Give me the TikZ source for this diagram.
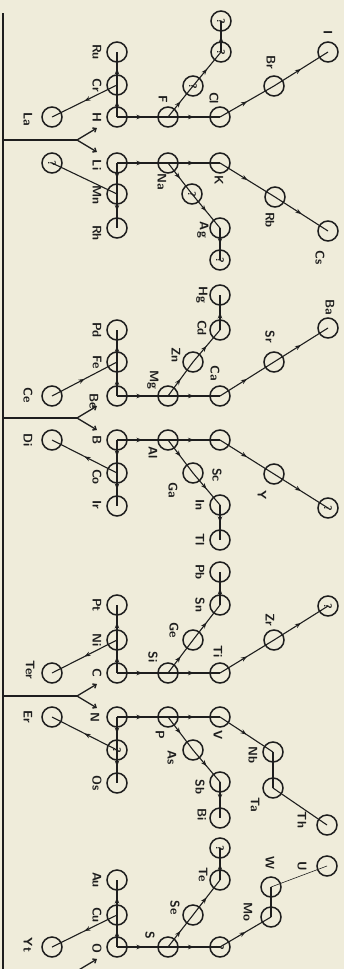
\documentclass[tikz,border=0pt]{standalone}
\usepackage{tikz}
\usetikzlibrary{arrows.meta,decorations.markings,positioning}
\definecolor{paper}{HTML}{EFECDA}
\definecolor{ink}{HTML}{1E1E1E}
\tikzset{
  element/.style={%
    circle,
    draw=ink,
    line width=1.5pt,
    minimum size=20pt,
    inner sep=0pt},
  unknown/.style={%
    element,
    rotate=-90,
    text=ink,
    font=\sffamily\bfseries\fontsize{11}{11}\selectfont},
  elementText/.style={%
    rotate=-90,
    text=ink,
    inner sep=0pt,
    font=\sffamily\bfseries\fontsize{12.5}{12.5}\selectfont},
  link/.style={draw=ink, line width=1.1pt},
  flowLink/.style={%
    link,
    postaction={decorate},
    decoration={markings,
      mark=at position 0.5 with {\arrow{Stealth[length=6pt,width=4.5pt]}}}},
  forkArrow/.style={draw=ink, line width=1.3pt, -{Straight Barb[length=3pt,width=5pt]}},
  }

\begin{document}
\begin{tikzpicture}[x=1pt,y=-1pt]
  \useasboundingbox (0,0) rectangle (344,969);
  \fill[paper] (0,0) rectangle (344,969);
  % main stem and the four forks
  \coordinate (stemTop) at (3,13);
  \coordinate (stemBottom) at (3,975);
  \draw[ink, line width=2pt] (stemTop) -- (stemBottom);
  \foreach \i/\y in {1/140, 2/418, 3/696, 4/971} {
    \coordinate (root \i) at (3,\y);
    \coordinate (split \i) at (77,\y);
    \coordinate (up \i) at (97,\y-12);
    \coordinate (down \i) at (97,\y+12);
    \draw[link, line width=1.3pt] (root \i) -- (split \i);
    \draw[forkArrow] (split \i) -- (up \i);
    \draw[forkArrow] (split \i) -- (down \i);
  }
  % elements
  \foreach \n/\x/\y in {
      La/52/117, H/117/117, Cr/117/85, Ru/117/52, F/168/117, Cl/220/117, Br/274/86, I/328/52,
      Li/117/163, Na/168/163, K/220/163, Rb/275/197, Cs/328/231, Mn/117/194, Rh/117/228, Ag/220/228,
      Hg/220/295, Cd/220/330, Zn/193/362, Mg/168/396, Be/117/396, Ca/220/396, Sr/274/362, Ba/328/328,
      Fe/117/362, Pd/117/330, Ce/52/396,
      B/117/440, Co/117/473, Ir/117/506, Di/52/440, Al/168/440, Sc/220/440, Y/274/474, Ga/193/473,
      In/220/505, Tl/220/540,
      Pb/220/572, Sn/220/605, Ge/193/640, Si/168/673, C/117/673, Ti/220/673, Zr/274/640, Ni/117/640,
      Pt/117/605, Ter/52/673,
      N/117/717, Os/117/783, Er/52/717, P/168/717, As/193/750, Sb/220/782, Bi/220/818, V/220/717,
      Nb/273/752, Ta/273/788, Th/327/825,
      Te/220/880, Se/193/915, S/168/947, O/117/947, Cu/117/915, Au/117/880, Yt/52/947,
      Mo/271/917, W/271/887, U/327/866}
    \node[element] (\n) at (\x,\y) {};
  % unknown places
  \foreach \n/\x/\y in {
      qa/193/86, qb/221/52, qc/221/21, qd/52/163, qe/192/194, qf/220/260, qg/328/508,
      qh/328/606, qi/117/750, qj/220/848, qk/220/947}
    \node[unknown] (\n) at (\x,\y) {?};
  % names
  \foreach \n/\x/\y in {
      La/28/119, H/97/117, Cr/97/85, Ru/97/52, F/163/99, Cl/214/98, Br/271/62, I/328/33,
      Li/97/165, Na/162/182, K/219/180, Rb/270/220, Cs/320/258, Mn/97/195, Rh/97/233, Ag/203/230,
      Hg/202/295, Cd/202/328, Zn/176/355, Mg/153/380, Be/94/401, Ca/215/373, Sr/270/337, Ba/330/307,
      Fe/97/362, Pd/97/330, Ce/28/395,
      B/97/440, Co/97/477, Ir/97/505, Di/28/440, Al/153/453, Sc/217/475, Y/262/495, Ga/173/490,
      In/200/505, Tl/200/540,
      Pb/200/572, Sn/200/605, Ge/174/630, Si/153/657, C/97/673, Ti/218/652, Zr/270/620, Ni/97/640,
      Pt/97/605, Ter/30/670,
      N/95/717, Os/97/783, Er/28/717, P/160/735, As/172/758, Sb/200/787, Bi/202/815, V/218/735,
      Nb/253/755, Ta/255/805, Th/302/820,
      Te/203/875, Se/175/908, S/150/935, O/97/948, Cu/97/915, Au/97/880, Yt/28/945,
      Mo/248/912, W/270/863, U/302/866}
    \node[elementText] (\n-text) at (\x,\y) {\n};
  % connections
  \foreach \a/\b in {
      H/F, F/Cl, Cl/Br, Br/I, F/qa, qa/qb, qb/qc, H/Cr, Cr/Ru, Cr/La,
      Li/Na, Na/K, K/Rb, Rb/Cs, Na/qe, qe/Ag, Ag/qf, Li/Mn, Mn/Rh,
      Be/Mg, Mg/Ca, Ca/Sr, Sr/Ba, Mg/Zn, Zn/Cd, Cd/Hg, Be/Fe, Fe/Pd, Ce/Fe,
      B/Al, Al/Sc, Sc/Y, Y/qg, Al/Ga, Ga/In, In/Tl, B/Co, Co/Ir, Co/Di,
      C/Si, Si/Ti, Ti/Zr, Zr/qh, Si/Ge, Ge/Sn, Sn/Pb, C/Ni, Ni/Pt, Ni/Ter,
      N/P, P/V, V/Nb, P/As, As/Sb, Sb/Bi, N/qi, qi/Os, qi/Er,
      O/S, S/qk, qk/Mo, S/Se, Se/Te, Te/qj, O/Cu, Cu/Au, Cu/Yt}
    \draw[flowLink] (\a.center) -- (\b.center);
  \foreach \a/\b in {Mn/qd, Nb/Ta, Ta/Th, Mo/W}
    \draw[link] (\a.center) -- (\b.center);
  \draw[link, line width=0.6pt] (W.center) -- (U.center);
\end{tikzpicture}
\end{document}
